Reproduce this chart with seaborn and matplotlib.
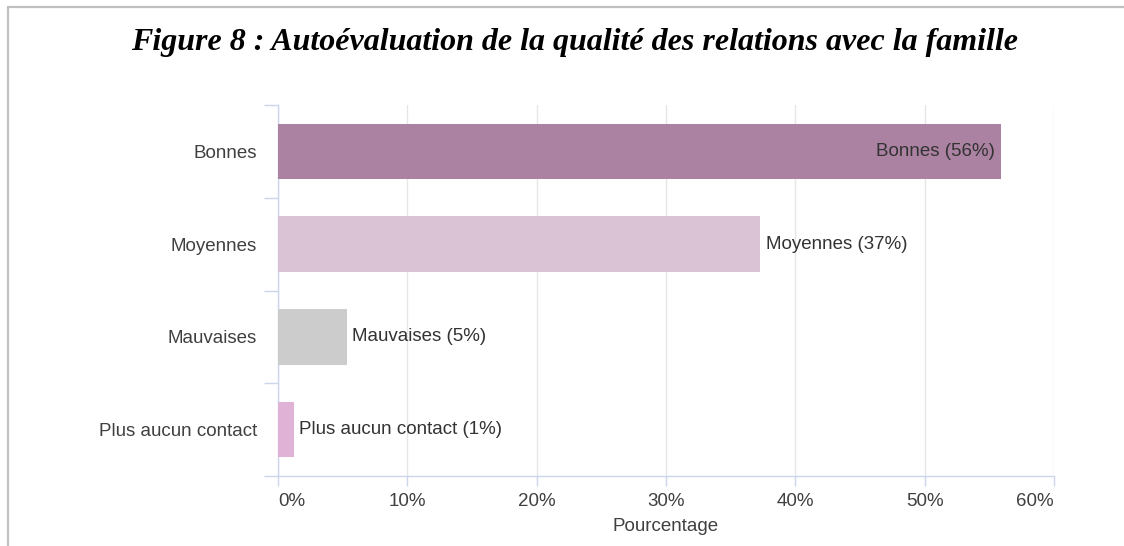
import matplotlib
matplotlib.use("Agg")
import matplotlib.pyplot as plt
import seaborn as sns
from matplotlib.lines import Line2D
from matplotlib.ticker import FuncFormatter

# data
categories = ["Bonnes", "Moyennes", "Mauvaises", "Plus aucun contact"]
percentages = [55.9, 37.3, 5.3, 1.2]
bar_colors = ["#ab82a1", "#dbc3d6", "#cccccc", "#dfb2d6"]
x_ticks = [0, 10, 20, 30, 40, 50, 60]

sns.set_style("white")
plt.rcParams['font.family'] = ['Liberation Sans', 'DejaVu Sans']

text_col = "#404040"
axis_col = "#ccd6eb"
grid_col = "#e6e6e6"
fs = 13.5

fig = plt.figure(figsize=(11.24, 5.46), dpi=100)
ax = fig.add_axes([278 / 1124, 70 / 546, (1054 - 278) / 1124, (476 - 105) / 546])

sns.barplot(x=percentages, y=categories, hue=categories, palette=bar_colors,
            saturation=1, width=0.6, linewidth=0, legend=False, orient="h",
            ax=ax, zorder=3)

ax.set_xlim(0, 60)
ax.set_ylim(3.5, -0.5)
ax.set_xticks(x_ticks)
ax.xaxis.set_major_formatter(FuncFormatter(lambda v, p: f"{v:.0f}%"))
ax.grid(axis="x", color=grid_col, linewidth=1, zorder=0)
ax.set_axisbelow(True)

for s in ["top", "right"]:
    ax.spines[s].set_visible(False)
for s in ["left", "bottom"]:
    ax.spines[s].set_color(axis_col)
    ax.spines[s].set_linewidth(1)

ax.tick_params(axis="x", bottom=True, length=7, color=axis_col, width=1, pad=5,
               labelsize=fs, labelcolor=text_col)
xlabels = ax.get_xticklabels()
xlabels[0].set_horizontalalignment("left")
xlabels[-1].set_horizontalalignment("right")

ax.set_yticks([-0.5, 0.5, 1.5, 2.5, 3.5], minor=True)
ax.tick_params(axis="y", which="minor", left=True, length=10, color=axis_col, width=1)
ax.tick_params(axis="y", which="major", left=False, length=0, pad=15,
               labelsize=fs, labelcolor=text_col)
ax.set_ylabel("")
ax.set_xlabel("Pourcentage", fontsize=fs, color=text_col, labelpad=6)

# data labels
for i, (cat, v) in enumerate(zip(categories, percentages)):
    lab = f"{cat} ({round(v)}%)"
    if v > 45:
        ax.text(v - 0.45, i, lab, ha="right", va="center", fontsize=fs, color="#333333")
    else:
        ax.text(v + 0.45, i, lab, ha="left", va="center", fontsize=fs, color="#333333")

fig.text(0.511, 0.922, "Figure 8 : Autoévaluation de la qualité des relations avec la famille",
         ha="center", va="center", fontsize=23, fontweight="bold", fontstyle="italic",
         family=["Liberation Serif", "DejaVu Serif"], color="black")

# frame around the figure
fig.add_artist(Line2D([8 / 1124, 8 / 1124], [0, 1 - 7 / 546], color="#c0c0c0", linewidth=1.6,
                      transform=fig.transFigure))
fig.add_artist(Line2D([8 / 1124, 1], [1 - 7 / 546, 1 - 7 / 546], color="#c0c0c0", linewidth=1.6,
                      transform=fig.transFigure))

fig.savefig("out.png", dpi=100)
